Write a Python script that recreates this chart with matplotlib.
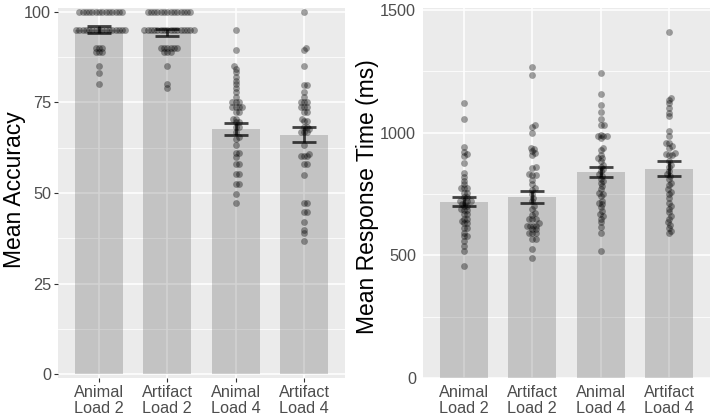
import numpy as np
import matplotlib
matplotlib.use("Agg")
import matplotlib.pyplot as plt

plt.rcParams["font.family"] = ["Liberation Sans", "DejaVu Sans"]

categories = ["Animal\nLoad 2", "Artifact\nLoad 2", "Animal\nLoad 4", "Artifact\nLoad 4"]

# accuracy (%) per participant
acc_animal_l2 = [100] * 14 + [95] * 16 + [90, 90, 90, 89, 89, 89, 85, 83, 80]
acc_artifact_l2 = [100] * 14 + [95] * 16 + [90] * 6 + [89, 89, 89, 85, 80, 79]
acc_animal_l4 = [95, 89.3, 84.9, 84.2, 83.3, 82.1, 81, 80.1, 79, 77.8, 76.4, 75, 75, 75,
                 73.6, 73.6, 73.6, 73.6, 72.3, 72.3, 70.4, 70.4, 69.5, 69.5, 68.1, 68.1,
                 66.7, 65.4, 65, 63.1, 61, 61, 59.9, 57.9, 57.9, 55.3, 55.3, 52.5, 52.5,
                 49.8, 47.3]
acc_artifact_l4 = [100, 90, 89.3, 84.9, 79.9, 79.9, 77.8, 76.4, 75, 75, 75, 73.6, 73.6,
                   73.6, 72.3, 72.3, 70.4, 69.8, 69.8, 68.3, 68.3, 67.6, 66.9, 66.9, 66.9,
                   63.1, 60.8, 60.1, 60.1, 60.1, 58, 58, 55, 47.3, 47.3, 44.9, 44.9, 42.1,
                   39.9, 38.9, 36.7]
acc_mean = [95.0, 94.3, 67.7, 66.1]
acc_se = [0.9, 0.9, 1.6, 2.0]

# response time (ms) per participant
rt_animal_l2 = [1120, 1055, 940, 922, 911, 904, 877, 836, 819, 803, 789, 773, 773, 773,
                755, 755, 738, 738, 722, 722, 722, 715, 710, 701, 701, 690, 684, 684, 668,
                668, 650, 650, 640, 630, 630, 613, 613, 593, 577, 577, 559, 539, 519, 458]
rt_artifact_l2 = [1269, 1235, 1030, 1022, 999, 938, 935, 924, 917, 908, 859, 857, 830, 826,
                  826, 809, 790, 773, 765, 750, 735, 722, 701, 690, 674, 665, 647, 647, 647,
                  630, 620, 620, 620, 620, 607, 607, 589, 589, 589, 566, 566, 526, 488]
rt_animal_l4 = [1245, 1158, 1111, 1084, 1055, 1032, 1032, 992, 985, 985, 985, 978, 938, 931,
                910, 897, 897, 884, 870, 861, 850, 843, 830, 823, 810, 803, 796, 782, 770,
                755, 751, 740, 722, 715, 708, 695, 681, 670, 661, 650, 634, 615, 593, 519]
rt_artifact_l4 = [1411, 1143, 1134, 1120, 1100, 1080, 1066, 1008, 985, 958, 958, 945, 938,
                  917, 911, 908, 908, 884, 870, 860, 843, 830, 823, 810, 796, 785, 769, 760,
                  749, 735, 715, 701, 690, 675, 661, 650, 634, 625, 613, 600, 589]
rt_mean = [719, 739, 840, 853]
rt_se = [18, 24, 20, 30]

W, H = 710, 419
PANEL_BG = "#EBEBEB"


def swarm_offsets(ypix, d):
    """Simple beeswarm: place points (ascending) as close to the centre as possible."""
    ypix = np.asarray(ypix, dtype=float)
    xs = np.zeros(len(ypix))
    placed = []
    for i in np.argsort(ypix, kind="stable"):
        y = ypix[i]
        near = [(xs[j], ypix[j]) for j in placed if abs(ypix[j] - y) < d]
        cands = [0.0]
        for xj, yj in near:
            dx = np.sqrt(d * d - (yj - y) ** 2)
            cands += [xj + dx, xj - dx]
        cands.sort(key=lambda c: (round(abs(c), 6), -c))
        for c in cands:
            if all((c - xj) ** 2 + (y - yj) ** 2 >= d * d - 1e-6 for xj, yj in near):
                xs[i] = c
                break
        placed.append(i)
    return xs


def style_axes(ax, ylim, major, minor, ticks_on):
    ax.set_facecolor(PANEL_BG)
    for s in ax.spines.values():
        s.set_visible(False)
    ax.set_xlim(0.4, 4.6)
    ax.set_ylim(*ylim)
    ax.set_yticks(major)
    ax.set_yticks(minor, minor=True)
    ax.set_xticks(range(1, 5))
    ax.set_xticklabels(categories, linespacing=1.12)
    ax.grid(True, which="major", color="white", linewidth=1.1)
    ax.grid(True, which="minor", axis="y", color="white", linewidth=0.55)
    ax.set_axisbelow(True)
    ln = 2.75 if ticks_on else 0
    ax.tick_params(which="major", length=ln, width=0.8, color="#333333",
                   labelcolor="#4D4D4D", labelsize=11.7, pad=2.2 if ticks_on else 5)
    ax.tick_params(which="minor", length=0)
    ax.tick_params(axis="x", pad=2.2 + (0 if ticks_on else 2.75))


def draw_panel(ax, groups, means, ses, d=3.3):
    xpos = np.arange(1, 5)
    ax.bar(xpos, means, width=0.7, color="black", alpha=0.17, linewidth=0, zorder=2)
    fig_w_px = ax.transData.transform([(1, 0), (2, 0)])
    px_per_unit = fig_w_px[1, 0] - fig_w_px[0, 0]
    for x, vals in zip(xpos, groups):
        vals = np.asarray(vals, dtype=float)
        ypix = ax.transData.transform(np.column_stack([np.full(len(vals), x), vals]))[:, 1]
        off = swarm_offsets(ypix, d) / px_per_unit
        ax.scatter(x + off, vals, s=24, color="black", alpha=0.36, linewidths=0, zorder=3)
    ax.errorbar(xpos, means, yerr=ses, fmt="none", ecolor="black", alpha=0.72,
                elinewidth=2.0, capsize=8.5, capthick=2.0, zorder=4)


fig = plt.figure(figsize=(W / 100, H / 100), dpi=100)

ax1 = fig.add_axes([58 / W, 1 - 378 / H, 287 / W, 370 / H])
style_axes(ax1, (-1, 101), [0, 25, 50, 75, 100], [12.5, 37.5, 62.5, 87.5], True)
draw_panel(ax1, [acc_animal_l2, acc_artifact_l2, acc_animal_l4, acc_artifact_l4],
           acc_mean, acc_se)
ax1.set_ylabel("Mean Accuracy", fontsize=16.5, color="black")
ax1.yaxis.set_label_coords((26 - 58) / 287, 0.51)

ax2 = fig.add_axes([423 / W, 1 - 378 / H, 287 / W, 370 / H])
style_axes(ax2, (0, 1508), [0, 500, 1000, 1500], [250, 750, 1250], False)
draw_panel(ax2, [rt_animal_l2, rt_artifact_l2, rt_animal_l4, rt_artifact_l4],
           rt_mean, rt_se)
ax2.set_ylabel("Mean Response Time (ms)", fontsize=16.5, color="black")
ax2.yaxis.set_label_coords((379 - 423) / 287, 0.49)

fig.savefig("out.png", dpi=100)
